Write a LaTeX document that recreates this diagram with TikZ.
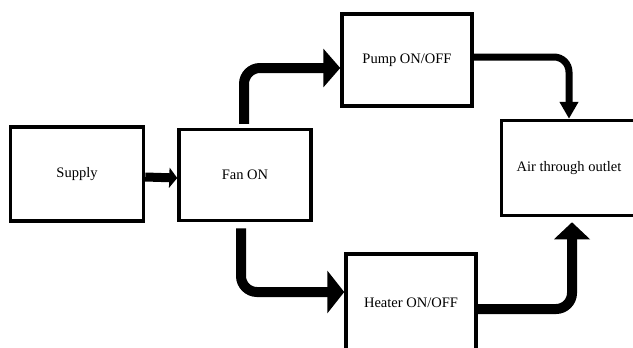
\documentclass[tikz,border=0pt]{standalone}
\usepackage{fontspec}
\setmainfont{Liberation Serif}
\usetikzlibrary{arrows.meta}

\begin{document}
\begin{tikzpicture}[
                x=1pt, y=-1pt,
                stagebox/.style={draw=black, line width=3.5pt, fill=white, inner sep=4pt,
                                 font=\fontsize{14.5}{17}\selectfont},
                thinarrow/.style={line width=7pt, rounded corners=15pt,
                                  -{Triangle[width=18pt, length=17pt]}},
                feedarrow/.style={line width=9pt, -{Triangle[width=20pt, length=8pt]}},
                bigarrow/.style={line width=10pt, rounded corners=16pt,
                                 -{Triangle[width=#1, length=17pt]}},
                bigarrow/.default=38pt
            ]
                \useasboundingbox (0,0) rectangle (633,348);
                \clip (0,0) rectangle (633,348);

                % the five stages
                \node[stagebox, minimum width=133pt, minimum height=94pt] (supply) at (77,174) {Supply};
                \node[stagebox, minimum width=132pt, minimum height=91pt] (fan) at (245,175) {Fan ON};
                \node[stagebox, minimum width=130pt, minimum height=92pt] (pump) at (407,60) {Pump ON/OFF};
                \node[stagebox, minimum width=130pt, minimum height=98pt] (heater) at (411,303) {Heater ON/OFF};
                \node[stagebox, minimum width=135pt, minimum height=95pt] (air) at (569,168) {Air through outlet};

                \draw[feedarrow] ([yshift=-3pt]supply.east) -- ([yshift=-3pt]fan.west);

                % fan splits into the pump and heater branches
                \draw[bigarrow] ([xshift=-1pt, yshift=4pt]fan.north) |- ([yshift=-8pt]pump.west);
                \draw[bigarrow=42pt] ([xshift=-4pt, yshift=-6pt]fan.south) |- ([yshift=11pt]heater.west);

                % both branches end at the outlet
                \draw[thinarrow] ([yshift=3pt]pump.east) -| (air.north);
                \draw[bigarrow=35pt] ([yshift=-6pt]heater.east) -| ([xshift=3pt, yshift=-5pt]air.south);

            \end{tikzpicture}
\end{document}
